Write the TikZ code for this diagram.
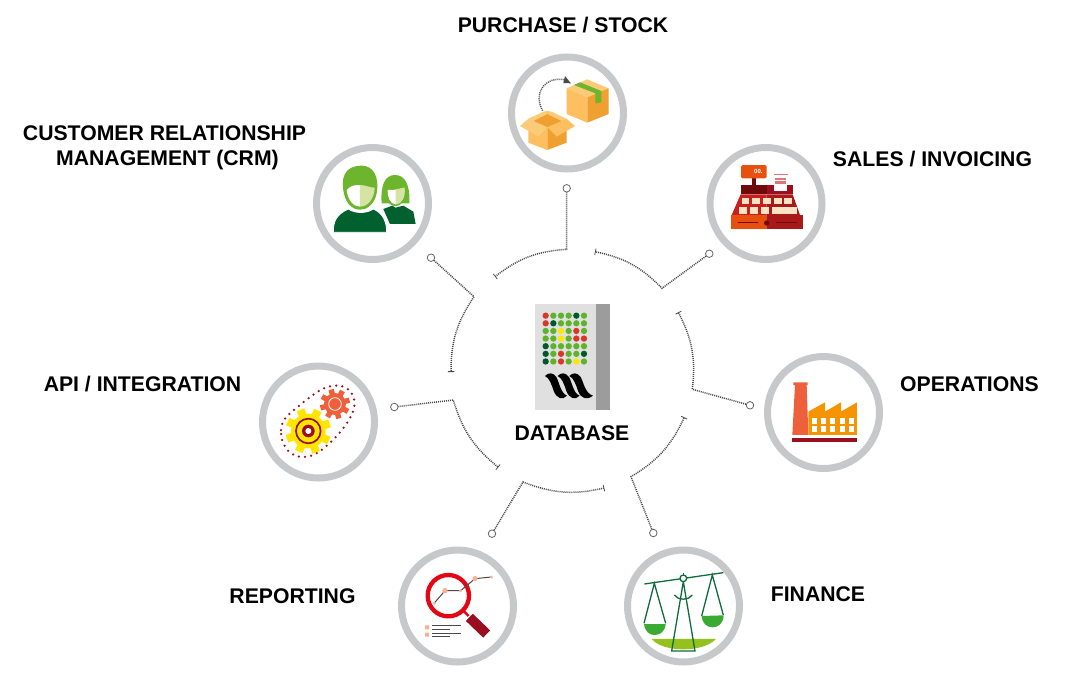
\documentclass[tikz,border=0pt]{standalone}
\usepackage{fontspec}
\setmainfont{Liberation Sans}
\usetikzlibrary{arrows.meta,positioning,calc}
\definecolor{ringgray}{HTML}{C6C8CA}
\definecolor{wiregray}{HTML}{4A4A4A}
\definecolor{boxlight}{HTML}{FDBF5F}
\definecolor{boxmid}{HTML}{FCCB78}
\definecolor{boxdark}{HTML}{F0A030}
\definecolor{leaf}{HTML}{6CB52D}
\definecolor{leafpale}{HTML}{D5E4A3}
\definecolor{pine}{HTML}{00612E}
\definecolor{tillorange}{HTML}{E8500F}
\definecolor{tillred}{HTML}{C81E1E}
\definecolor{tilldark}{HTML}{6E0A0A}
\definecolor{cream}{HTML}{FBE3C4}
\definecolor{brick}{HTML}{EE5F3C}
\definecolor{amber}{HTML}{F69300}
\definecolor{wine}{HTML}{9A0F1F}
\definecolor{gearyellow}{HTML}{FFE500}
\definecolor{lensred}{HTML}{E30613}
\definecolor{blush}{HTML}{F8B195}
\definecolor{scalegreen}{HTML}{0E6B3A}
\definecolor{pangreen}{HTML}{3AAA35}
\definecolor{lime}{HTML}{95C11F}
\definecolor{dotred}{HTML}{D9372A}
\definecolor{dotgreen}{HTML}{5FB32A}
\definecolor{dotpine}{HTML}{00582F}
\definecolor{dotyellow}{HTML}{FFE600}
\begin{document}
\begin{tikzpicture}[x=1pt,y=-1pt]
\tikzstyle{crop}=[shift={(#1)},x=.3333pt,y=-.3333pt]
\tikzstyle{ring}=[circle,draw=ringgray,line width=7pt,minimum size=112pt,inner sep=0pt]
\tikzstyle{title}=[font=\bfseries\fontsize{21.2}{25}\selectfont,align=center,text=black,inner sep=0pt]
\tikzstyle{port}=[circle,draw=wiregray!85,fill=white,thick,minimum size=7.5pt,inner sep=0pt]
\tikzstyle{wire}=[draw=wiregray,line width=1.5pt,dash pattern=on 1pt off 1pt]
\tikzstyle{barend}=[-{Bar[width=6.5pt,line width=.8pt,sep=0pt]}]
\useasboundingbox (0,0) rectangle (1079,678);

\node[ring] (stock)     at (567.5,113)   {};
\node[ring] (crm)       at (372.5,203.5) {};
\node[ring] (sales)     at (766,203.5)   {};
\node[ring] (operation) at (823.5,412.5) {};
\node[ring] (api)       at (318.5,422)   {};
\node[ring] (report)    at (457.5,606)   {};
\node[ring] (finance)   at (683.5,606)   {};

\node[title] (stocktext)     at (563,25)    {PURCHASE / STOCK};
\node[title] (crmtext)       at (164.5,148) {CUSTOMER RELATIONSHIP\\\hspace*{6pt}MANAGEMENT (CRM)};
\node[title] (salestext)     at (932.5,159) {SALES / INVOICING};
\node[title] (operationtext) at (969.5,384) {OPERATIONS};
\node[title] (apitext)       at (142.5,384) {API / INTEGRATION};
\node[title] (reporttext)    at (292.5,596) {REPORTING};
\node[title] (financetext)   at (818,594)   {FINANCE};
\node[title] (dbtext)        at (572,433)   {DATABASE};

\node[port] (stockport)     at (566.7,188.3) {};
\node[port] (salesport)     at (709.3,253.7) {};
\node[port] (crmport)       at (431,257.7)   {};
\node[port] (operationport) at (750,405.3)   {};
\node[port] (apiport)       at (394.3,407)   {};
\node[port] (reportport)    at (492,533.7)   {};
\node[port] (financeport)   at (653.3,533)   {};
\coordinate (stockbend)     at (566.7,249.3);
\coordinate (stockend)      at (495,276.7);
\coordinate (salesbend)     at (662,288.3);
\coordinate (salesend)      at (595,251.7);
\coordinate (crmbend)       at (474,296.7);
\coordinate (crmend)        at (451,372);
\coordinate (operationbend) at (692.3,389.3);
\coordinate (operationend)  at (678.3,312.3);
\coordinate (apibend)       at (453.3,400);
\coordinate (apiend)        at (498.3,467.3);
\coordinate (reportbend)    at (523,482);
\coordinate (reportend)     at (604.3,488);
\coordinate (financebend)   at (631,476.7);
\coordinate (financeend)    at (684.3,417.3);
\draw[wire,barend] (stockport) -- (stockbend) to[bend right=17] (stockend);
\draw[wire,barend] (salesport) -- (salesbend) to[bend right=17] (salesend);
\draw[wire,barend] (crmport) -- (crmbend) to[bend right=17] (crmend);
\draw[wire,barend] (operationport) -- (operationbend) to[bend right=17] (operationend);
\draw[wire,barend] (apiport) -- (apibend) to[bend right=17] (apiend);
\draw[wire,barend] (reportport) -- (reportbend) to[bend right=17] (reportend);
\draw[wire,barend] (financeport) -- (financebend) to[bend right=17] (financeend);

\begin{scope}[crop={500,40}]
\fill[boxmid] (262,118) -- (326,145) -- (262,172) -- (200,145) -- cycle;
\fill[boxlight] (200,145) -- (262,172) -- (262,248) -- (200,222) -- cycle;
\fill[boxdark] (326,145) -- (262,172) -- (262,248) -- (326,222) -- cycle;
\fill[leaf] (222,135) -- (240,127) -- (304,153) -- (304,187) -- (286,190) -- (286,160) -- cycle;
\draw[wiregray,line width=1.5pt,dash pattern=on 1pt off 1pt] (128,212) .. controls (100,165) and (130,105) .. (200,120);
\fill[wiregray] (195,108) -- (213,130) -- (190,129) -- cycle;
\fill[boxdark] (142,213) -- (200,237) -- (142,262) -- (85,237) -- cycle;
\fill[boxlight] (85,237) -- (142,262) -- (142,330) -- (85,308) -- cycle;
\fill[boxdark] (200,237) -- (142,262) -- (142,330) -- (200,308) -- cycle;
\fill[boxmid] (85,237) -- (130,215) -- (142,213) -- (142,222) -- (100,243) -- cycle;
\fill[boxmid] (200,237) -- (155,215) -- (142,213) -- (142,222) -- (185,243) -- cycle;
\fill[boxmid] (85,237) -- (60,258) -- (115,290) -- (142,262) -- cycle;
\fill[boxlight] (200,237) -- (225,258) -- (170,290) -- (142,262) -- cycle;
\end{scope}

\begin{scope}[crop={305,135}]
\fill[pine] (235,222) -- (262,212) -- (272,218) -- (295,212) -- (325,230) -- (332,267) -- (255,267) -- cycle;
\fill[leaf] (230,205) .. controls (226,150) and (240,120) .. (270,120) .. controls (300,120) and (316,150) .. (313,205) -- (290,205) .. controls (280,216) and (262,216) .. (252,205) -- cycle;
\fill[white] (248,165) .. controls (260,165) and (280,165) .. (298,158) .. controls (302,185) and (290,208) .. (272,208) .. controls (256,208) and (246,185) .. (248,165) -- cycle;
\fill[leafpale] (272,163) -- (298,158) .. controls (302,185) and (290,208) .. (272,208) -- cycle;
\fill[pine,draw=white,line width=.8pt] (85,292) .. controls (85,260) and (92,240) .. (130,222) .. controls (150,236) and (185,236) .. (205,222) .. controls (235,235) and (245,262) .. (245,292) -- cycle;
\fill[leaf] (118,180) .. controls (105,130) and (118,92) .. (170,92) .. controls (205,92) and (225,125) .. (214,180) .. controls (205,210) and (185,224) .. (165,224) .. controls (140,224) and (125,205) .. (118,180) -- cycle;
\fill[white] (125,165) .. controls (140,150) and (150,150) .. (165,150) -- (165,215) .. controls (145,215) and (128,195) .. (125,165) -- cycle;
\fill[leafpale] (165,150) .. controls (180,150) and (195,158) .. (209,158) .. controls (208,190) and (190,215) .. (165,215) -- cycle;
\end{scope}

\begin{scope}[crop={700,135}]
\fill[tilldark] (155,128) rectangle (168,152);
\fill[tillorange,rounded corners=1.5pt] (123,90) rectangle (200,130);
\node[text=white,font=\bfseries\fontsize{6}{6}\selectfont,inner sep=0pt] (tilldigits) at (175,110) {00.};
\fill[tilldark] (122,150) rectangle (200,178);
\fill[wine] (200,150) rectangle (278,178);
\fill[white] (222,148) rectangle (262,168);
\fill[tillred!60!white] (226,128) rectangle (258,134);
\fill[tillred!60!white] (226,138) rectangle (258,146);
\draw[tillred!60!white,line width=.7pt] (221,119) -- (263,119);
\fill[tillred] (122,178) -- (200,178) -- (200,240) -- (95,240) -- cycle;
\fill[tillred!85!black] (200,178) -- (278,178) -- (300,240) -- (200,240) -- cycle;
\foreach \keyx in {125,157,190,222,252} \fill[cream] (\keyx,188) rectangle +(23,20);
\foreach \keyx in {118,150,183} \fill[cream] (\keyx,217) rectangle +(23,20);
\fill[cream] (217,217) rectangle (290,237);
\fill[tillorange] (93,240) rectangle (200,283);
\fill[tillred!85!black] (200,240) rectangle (308,283);
\draw[tilldark,line width=1pt] (113,264) -- (175,264);
\draw[tilldark,line width=1pt] (227,264) -- (290,264);
\fill[tilldark] (200,264) circle (8);
\end{scope}

\begin{scope}[crop={755,345}]
\fill[brick] (115,112) -- (158,112) -- (158,120) -- (155,120) -- (160,270) -- (112,270) -- (120,120) -- (115,120) -- cycle;
\fill[amber] (160,270) -- (160,200) -- (210,172) -- (210,200) -- (258,172) -- (258,200) -- (306,172) -- (306,270) -- cycle;
\foreach \winx in {170,198,226,254,282} {
  \fill[white] (\winx,220) rectangle +(15,18);
  \fill[white] (\winx,243) rectangle +(15,18);
}
\fill[wine] (112,278) rectangle (306,292);
\end{scope}

\begin{scope}[crop={250,355}]
\draw[wine,line width=2.5pt,line cap=round,dash pattern=on 0pt off 6.2pt] (93,225) .. controls (95,190) and (120,175) .. (150,150) .. controls (190,118) and (225,88) .. (265,92) .. controls (300,95) and (320,125) .. (312,160) .. controls (300,205) and (250,260) .. (205,292) .. controls (170,315) and (125,310) .. (105,275) .. controls (97,260) and (92,245) .. (93,225) -- cycle;
\foreach \tooth in {20,65,...,335}
  \fill[gearyellow,rotate around={\tooth:(175,228)}] (163,160) rectangle (187,190);
\fill[gearyellow] (175,228) circle (52);
\draw[wine,line width=1.7pt] (175,228) circle (37);
\fill[wine] (175,228) circle (19);
\fill[white] (175,228) circle (9);
\foreach \tooth in {15,60,...,330}
  \fill[brick,rotate around={\tooth:(255,147)}] (247,102) rectangle (263,125);
\fill[brick] (255,147) circle (33);
\draw[white,line width=.8pt] (255,147) circle (19);
\end{scope}

\begin{scope}[crop={390,540}]
\draw[lensred,line width=4.3pt] (175,167) circle (62);
\draw[lensred,line width=2.5pt] (222,214) -- (236,228);
\draw[wine,line width=10pt] (238,232) -- (290,282);
\draw[wiregray,line width=1pt] (133,189) -- (165,152) -- (212,152) -- (255,116) -- (304,111);
\fill[blush] (133,189) circle (5) (165,152) circle (8) (212,152) circle (5) (255,116) circle (8) (304,111) circle (5);
\fill[blush] (105,256) rectangle (117,268) (105,278) rectangle (117,290);
\foreach \liney/\lineend in {257/213,267/180,279/213,289/180}
  \draw[wiregray,line width=1pt] (127,\liney) -- (\lineend,\liney);
\end{scope}

\begin{scope}[crop={615,540}]
\fill[lime] (110,297) -- (303,297) .. controls (280,320) and (240,328) .. (205,328) .. controls (170,328) and (130,320) .. (110,297) -- cycle;
\fill[pangreen] (87,252) -- (152,252) .. controls (150,275) and (135,285) .. (119,285) .. controls (103,285) and (90,275) .. (87,252) -- cycle;
\fill[pangreen] (260,228) -- (326,226) .. controls (325,250) and (310,262) .. (293,262) .. controls (275,262) and (262,250) .. (260,228) -- cycle;
\draw[scalegreen,line width=1.3pt] (88,132) -- (325,98);
\draw[scalegreen,line width=1.3pt] (205,125) -- (170,333) -- (240,333) -- cycle;
\draw[scalegreen,line width=1.3pt] (178,165) .. controls (190,182) and (220,182) .. (232,165);
\draw[scalegreen,line width=1.3pt] (87,250) -- (118,130) -- (152,250);
\draw[scalegreen,line width=1.3pt] (260,228) -- (292,105) -- (325,225);
\draw[scalegreen,line width=1.3pt,fill=white] (205,115) circle (10);
\draw[scalegreen,line width=1.3pt] (205,105) -- (205,99);
\end{scope}

\begin{scope}[crop={525,295}]
\fill[black!12] (30,28) rectangle (212,345);
\fill[black!39] (212,28) rectangle (256,345);
\foreach \dotcolor [count=\i from 0] in {dotred,dotgreen,dotgreen,dotgreen,dotpine,dotgreen,
  dotred,dotpine,dotgreen,dotgreen,dotgreen,dotgreen,
  dotgreen,dotgreen,dotyellow,dotgreen,dotred,dotgreen,
  dotgreen,dotgreen,dotyellow,dotgreen,dotred,dotred,
  dotpine,dotgreen,dotgreen,dotgreen,dotgreen,dotgreen,
  dotpine,dotgreen,dotred,dotgreen,dotgreen,dotpine,
  dotpine,dotgreen,dotred,dotgreen,dotyellow,dotgreen}
  \fill[\dotcolor] ({62+23*mod(\i,6)},{62+22.9*int(\i/6)}) circle (9.5);
\foreach \logox/\logotail in {0/0,38/0,73/5}
  \fill[black,xshift=\logox*.3333pt] (60,243) .. controls (70,232) and (84,232) .. (94,246) .. controls (103,262) and (107,295) .. (\logotail+126,302) .. controls (113,316) and (96,312) .. (86,288) .. controls (80,268) and (72,248) .. (60,243) -- cycle;
\end{scope}
\end{tikzpicture}
\end{document}
